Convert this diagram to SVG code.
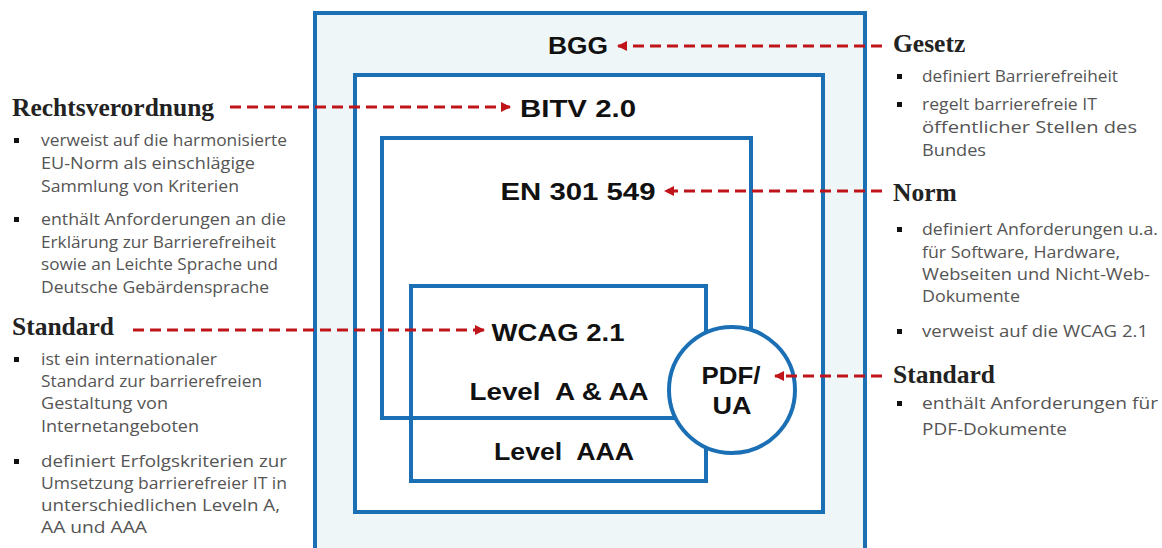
<svg xmlns="http://www.w3.org/2000/svg" width="1162" height="548" viewBox="0 0 1162 548">
  <style>
    .box { fill: none; stroke: #1b6fb5; stroke-width: 4; }
    .lbl { font-family: "Liberation Sans", Arial, sans-serif; font-weight: bold; font-size: 24px; fill: #111; text-anchor: middle; }
    .head { font-family: "Liberation Serif", "Times New Roman", serif; font-weight: bold; font-size: 25.5px; fill: #222; }
    .body { font-family: "Open Sans", "Noto Sans", sans-serif; font-size: 16.5px; fill: #555; }
    .bul { fill: #111; }
    .con { fill: none; stroke: #c0141b; stroke-width: 3; stroke-dasharray: 11 6; }
  </style>
  <defs>
    <marker id="ah" viewBox="0 0 10 10" refX="9" refY="5" markerWidth="10" markerHeight="10" markerUnits="userSpaceOnUse" orient="auto">
      <path d="M0,0 L10,5 L0,10 z" fill="#c0141b"/>
    </marker>
  </defs>
  <rect width="1162" height="548" fill="#ffffff"/>

  <g id="bgg">
    <rect x="315" y="13" width="550" height="560" fill="#eef6f8" stroke="#1b6fb5" stroke-width="4"/>
    <text class="lbl" x="578" y="54" textLength="60" lengthAdjust="spacingAndGlyphs">BGG</text>
  </g>
  <g id="bitv">
    <rect x="355" y="75" width="468" height="437" fill="#ffffff" stroke="#1b6fb5" stroke-width="4"/>
    <text class="lbl" x="578" y="117" textLength="116" lengthAdjust="spacingAndGlyphs">BITV 2.0</text>
  </g>
  <g id="en">
    <rect class="box" x="382" y="138" width="369" height="280"/>
    <text class="lbl" x="578" y="200" textLength="155" lengthAdjust="spacingAndGlyphs">EN 301 549</text>
  </g>
  <g id="wcag">
    <rect class="box" x="411" y="286" width="295" height="195"/>
    <text class="lbl" x="558" y="341" textLength="133" lengthAdjust="spacingAndGlyphs">WCAG 2.1</text>
    <text class="lbl" x="559" y="400" textLength="179" lengthAdjust="spacingAndGlyphs" xml:space="preserve">Level  A &amp; AA</text>
    <text class="lbl" x="564" y="460" textLength="140" lengthAdjust="spacingAndGlyphs" xml:space="preserve">Level  AAA</text>
  </g>
  <g id="pdfua">
    <circle cx="732" cy="390" r="63" fill="#ffffff" stroke="#1b6fb5" stroke-width="4"/>
    <text class="lbl" x="731" y="384" textLength="59" lengthAdjust="spacingAndGlyphs">PDF/</text>
    <text class="lbl" x="732" y="414" textLength="39" lengthAdjust="spacingAndGlyphs">UA</text>
  </g>

  <g id="connectors">
    <line class="con" x1="882" y1="46" x2="618" y2="46" marker-end="url(#ah)"/>
    <line class="con" x1="230" y1="107" x2="510" y2="107" marker-end="url(#ah)"/>
    <line class="con" x1="882" y1="191" x2="665" y2="191" marker-end="url(#ah)"/>
    <line class="con" x1="133" y1="330" x2="484" y2="330" marker-end="url(#ah)"/>
    <line class="con" x1="882" y1="376" x2="775" y2="376" marker-end="url(#ah)"/>
  </g>

  <g id="rechtsverordnung">
    <text class="head" x="12" y="116">Rechtsverordnung</text>
    <rect class="bul" x="14" y="138" width="5" height="5"/>
    <text class="body" x="41" y="146" textLength="246" lengthAdjust="spacingAndGlyphs">verweist auf die harmonisierte</text>
    <text class="body" x="41" y="169" textLength="214" lengthAdjust="spacingAndGlyphs">EU-Norm als einschlägige</text>
    <text class="body" x="41" y="192" textLength="198" lengthAdjust="spacingAndGlyphs">Sammlung von Kriterien</text>
    <rect class="bul" x="14" y="217" width="5" height="5"/>
    <text class="body" x="41" y="225" textLength="245" lengthAdjust="spacingAndGlyphs">enthält Anforderungen an die</text>
    <text class="body" x="41" y="248" textLength="235" lengthAdjust="spacingAndGlyphs">Erklärung zur Barrierefreiheit</text>
    <text class="body" x="41" y="270" textLength="237" lengthAdjust="spacingAndGlyphs">sowie an Leichte Sprache und</text>
    <text class="body" x="41" y="293" textLength="228" lengthAdjust="spacingAndGlyphs">Deutsche Gebärdensprache</text>
  </g>

  <g id="standard-left">
    <text class="head" x="12" y="335">Standard</text>
    <rect class="bul" x="14" y="357" width="5" height="5"/>
    <text class="body" x="41" y="365" textLength="176" lengthAdjust="spacingAndGlyphs">ist ein internationaler</text>
    <text class="body" x="41" y="387" textLength="221" lengthAdjust="spacingAndGlyphs">Standard zur barrierefreien</text>
    <text class="body" x="41" y="409" textLength="127" lengthAdjust="spacingAndGlyphs">Gestaltung von</text>
    <text class="body" x="41" y="432" textLength="158" lengthAdjust="spacingAndGlyphs">Internetangeboten</text>
    <rect class="bul" x="14" y="459" width="5" height="5"/>
    <text class="body" x="41" y="467" textLength="246" lengthAdjust="spacingAndGlyphs">definiert Erfolgskriterien zur</text>
    <text class="body" x="41" y="489" textLength="246" lengthAdjust="spacingAndGlyphs">Umsetzung barrierefreier IT in</text>
    <text class="body" x="41" y="511" textLength="239" lengthAdjust="spacingAndGlyphs">unterschiedlichen Leveln A,</text>
    <text class="body" x="41" y="533" textLength="106" lengthAdjust="spacingAndGlyphs">AA und AAA</text>
  </g>

  <g id="gesetz">
    <text class="head" x="893" y="52">Gesetz</text>
    <rect class="bul" x="897" y="74" width="5" height="5"/>
    <text class="body" x="922" y="82" textLength="196" lengthAdjust="spacingAndGlyphs">definiert Barrierefreiheit</text>
    <rect class="bul" x="897" y="102" width="5" height="5"/>
    <text class="body" x="922" y="110" textLength="175" lengthAdjust="spacingAndGlyphs">regelt barrierefreie IT</text>
    <text class="body" x="922" y="133" textLength="215" lengthAdjust="spacingAndGlyphs">öffentlicher Stellen des</text>
    <text class="body" x="922" y="156" textLength="64" lengthAdjust="spacingAndGlyphs">Bundes</text>
  </g>

  <g id="norm">
    <text class="head" x="893" y="201">Norm</text>
    <rect class="bul" x="897" y="227" width="5" height="5"/>
    <text class="body" x="922" y="235" textLength="236" lengthAdjust="spacingAndGlyphs">definiert Anforderungen u.a.</text>
    <text class="body" x="922" y="258" textLength="198" lengthAdjust="spacingAndGlyphs">für Software, Hardware,</text>
    <text class="body" x="922" y="280" textLength="228" lengthAdjust="spacingAndGlyphs">Webseiten und Nicht-Web-</text>
    <text class="body" x="922" y="302" textLength="98" lengthAdjust="spacingAndGlyphs">Dokumente</text>
    <rect class="bul" x="897" y="329" width="5" height="5"/>
    <text class="body" x="922" y="337" textLength="226" lengthAdjust="spacingAndGlyphs">verweist auf die WCAG 2.1</text>
  </g>

  <g id="standard-right">
    <text class="head" x="893" y="383">Standard</text>
    <rect class="bul" x="897" y="401" width="5" height="5"/>
    <text class="body" x="922" y="409" textLength="236" lengthAdjust="spacingAndGlyphs">enthält Anforderungen für</text>
    <text class="body" x="922" y="435" textLength="145" lengthAdjust="spacingAndGlyphs">PDF-Dokumente</text>
  </g>
</svg>
